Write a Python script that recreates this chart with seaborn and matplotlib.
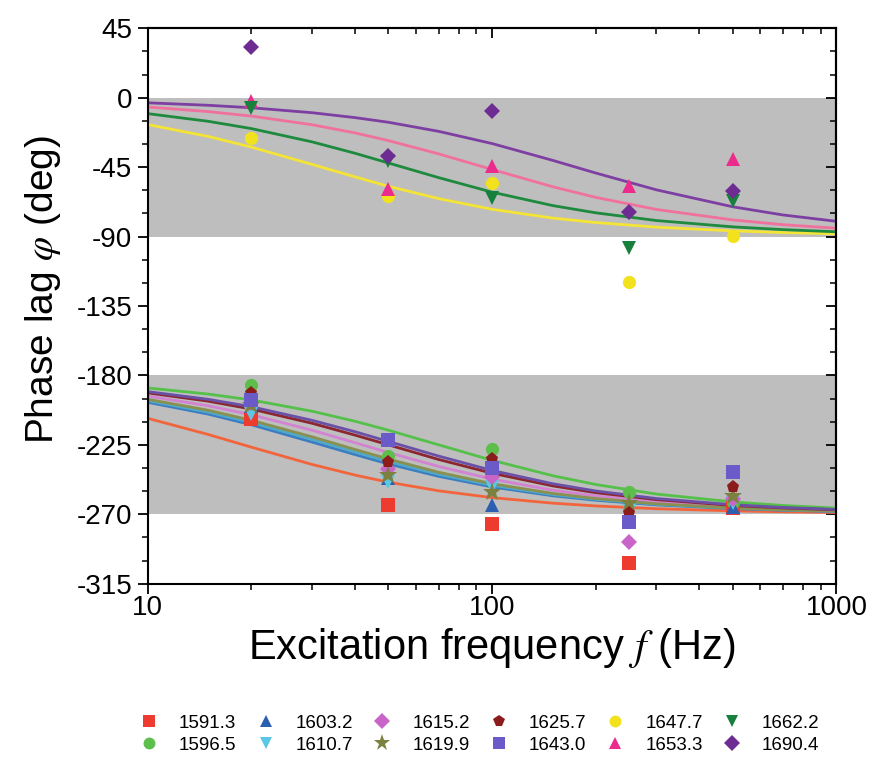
import numpy as np
import pandas as pd
import matplotlib
matplotlib.use("Agg")
import matplotlib.pyplot as plt
import matplotlib.ticker as mticker
import seaborn as sns

# measured points
freq = [20, 50, 100, 250, 500]
series = ["1591.3", "1596.5", "1603.2", "1610.7", "1615.2", "1619.9",
          "1625.7", "1643.0", "1647.7", "1653.3", "1662.2", "1690.4"]
p_1591 = [-208.5, -264, -276, -301.5, -266]
p_1596 = [-186.5, -232.5, -227.5, -255.5, -262]
p_1603 = [-200, -246.5, -264, -275, -265]
p_1610 = [-205, -249, -252, -268, -263]
p_1615 = [-198, -240.5, -246, -288, -260]
p_1619 = [-199, -244.5, -255.5, -263, -258]
p_1625 = [-191.5, -236, -234, -269.5, -252]
p_1643 = [-196, -222, -240, -275, -242.5]
p_1647 = [-26, -64, -55, -119.5, -89.5]
p_1653 = [-2, -59, -44, -57, -40]
p_1662 = [-6.7, -41, -65, -97.5, -66.7]
p_1690 = [32.6, -37.5, -8.8, -74, -60.6]
points = [p_1591, p_1596, p_1603, p_1610, p_1615, p_1619,
          p_1625, p_1643, p_1647, p_1653, p_1662, p_1690]

# fitted curves
fit_freq = [10, 15, 20, 30, 40, 50, 70, 100, 150, 200, 300, 500, 700, 1000]
c_1591 = [-207.8, -218.3, -226.5, -237.7, -244.6, -249.2, -254.8, -259.2, -262.8, -264.6, -266.4, -267.8, -268.4, -268.9]
c_1596 = [-188.1, -192.1, -195.9, -203.2, -209.7, -215.5, -225.0, -235.0, -245.0, -250.7, -256.9, -262.0, -264.3, -266.0]
c_1603 = [-197.4, -205.1, -212.0, -223.2, -231.3, -237.4, -245.4, -252.3, -258.0, -260.9, -263.9, -266.3, -267.4, -268.2]
c_1610 = [-196.4, -203.8, -210.5, -221.4, -229.6, -235.8, -244.1, -251.2, -257.2, -260.3, -263.5, -266.1, -267.2, -268.1]
c_1615 = [-193.4, -199.7, -205.5, -215.5, -223.6, -230.0, -239.0, -247.2, -254.4, -258.1, -262.0, -265.2, -266.6, -267.6]
c_1619 = [-195.5, -202.6, -209.1, -219.8, -228.0, -234.2, -242.8, -250.2, -256.5, -259.8, -263.2, -265.9, -267.1, -267.9]
c_1625 = [-191.3, -196.7, -201.8, -211.0, -218.7, -225.0, -234.5, -243.4, -251.6, -256.0, -260.5, -264.3, -265.9, -267.1]
c_1643 = [-190.5, -195.5, -200.3, -209.1, -216.5, -222.8, -232.3, -241.6, -250.2, -254.9, -259.8, -263.8, -265.6, -266.9]
c_1647 = [-17.4, -25.1, -32.0, -43.2, -51.3, -57.4, -65.4, -72.3, -78.0, -80.9, -83.9, -86.3, -87.4, -88.2]
c_1653 = [-6.0, -9.0, -11.9, -17.5, -22.8, -27.8, -36.4, -46.5, -57.7, -64.6, -72.4, -79.2, -82.3, -84.6]
c_1662 = [-10.3, -15.3, -20.0, -28.6, -36.0, -42.3, -51.8, -61.2, -69.9, -74.6, -79.6, -83.7, -85.5, -86.9]
c_1690 = [-3.3, -4.9, -6.5, -9.7, -12.9, -15.9, -21.8, -29.7, -40.6, -48.8, -59.7, -70.7, -76.0, -80.1]
curves = [c_1591, c_1596, c_1603, c_1610, c_1615, c_1619,
          c_1625, c_1643, c_1647, c_1653, c_1662, c_1690]

marker_colors = ["#EE3B2F", "#5DBE4B", "#2C5FB0", "#5CC7E3", "#C964C8", "#7C8040",
                 "#8C1C1C", "#6A5BC8", "#F2E21E", "#EC2C8C", "#16803C", "#6E2C93"]
line_colors = ["#F2653C", "#55C04A", "#3B7CC2", "#4FA9C8", "#D284D2", "#8A9050",
               "#8C2630", "#6B50A8", "#F4E436", "#F0709E", "#1E8A3E", "#7E3FA2"]
markers = ["s", "o", "^", "v", "D", "*", "p", "s", "o", "^", "v", "D"]

sns.set_style("white")
plt.rcParams['font.family'] = ['Liberation Sans', 'DejaVu Sans']
plt.rcParams['mathtext.fontset'] = 'stix'
plt.rcParams['axes.unicode_minus'] = False
plt.rcParams['text.color'] = 'black'
plt.rcParams['axes.labelcolor'] = 'black'
plt.rcParams['xtick.color'] = 'black'
plt.rcParams['ytick.color'] = 'black'

fig = plt.figure(figsize=(8.74, 7.65), dpi=100)
ax = fig.add_axes([0.169, 0.237, 0.788, 0.726])

ax.axhspan(-90, 0, color="#bebebe", lw=0, zorder=0)
ax.axhspan(-270, -180, color="#bebebe", lw=0, zorder=0)

for name, c, col in zip(series, curves, line_colors):
    df = pd.DataFrame({"f": fit_freq, "phi": c})
    sns.lineplot(data=df, x="f", y="phi", color=col, lw=2, ax=ax, zorder=2)

handles = []
for name, p, col, m in zip(series, points, marker_colors, markers):
    ms = {"*": 14, "D": 8.5}.get(m, 9.5)
    h, = ax.plot(freq, p, linestyle="none", marker=m, color=col,
                 markersize=ms, markeredgewidth=0, zorder=3, label=name)
    handles.append(h)

ax.set_xscale("log")
ax.set_xlim(10, 1000)
ax.set_ylim(-315, 45)
ax.set_yticks(np.arange(-315, 46, 45))
ax.yaxis.set_minor_locator(mticker.MultipleLocator(15))
ax.xaxis.set_minor_locator(mticker.LogLocator(base=10, subs=np.arange(2, 10)))
ax.xaxis.set_minor_formatter(mticker.NullFormatter())
ax.xaxis.set_major_formatter(mticker.FuncFormatter(lambda v, _: f"{int(v)}"))
ax.tick_params(axis="both", which="both", direction="out", bottom=True, left=True,
               top=False, right=False, labelsize=20, colors="black")
ax.tick_params(which="major", length=7, width=1.3, pad=4)
ax.tick_params(which="minor", length=4, width=1.1)
ax.tick_params(axis="x", which="major", pad=1)
for s in ax.spines.values():
    s.set_linewidth(1.5)
    s.set_color("black")

# mirrored ticks pointing inward on top and right
top = ax.secondary_xaxis("top")
top.xaxis.set_minor_locator(mticker.LogLocator(base=10, subs=np.arange(2, 10)))
top.tick_params(which="both", direction="in", labeltop=False, colors="black")
top.tick_params(which="major", length=7, width=1.3)
top.tick_params(which="minor", length=4, width=1.1)
right = ax.secondary_yaxis("right")
right.set_yticks(np.arange(-315, 46, 45))
right.yaxis.set_minor_locator(mticker.MultipleLocator(15))
right.tick_params(which="both", direction="in", labelright=False, colors="black")
right.tick_params(which="major", length=7, width=1.3)
right.tick_params(which="minor", length=4, width=1.1)
for sec in (top, right):
    for s in sec.spines.values():
        s.set_linewidth(1.5)
        s.set_color("black")

ax.set_xlabel(r"Excitation frequency $f$ (Hz)", fontsize=30, labelpad=4)
ax.set_ylabel(r"Phase lag $\varphi$ (deg)", fontsize=28, labelpad=10)
ax.yaxis.label.set_y(0.53)

fig.legend(handles=handles, labels=series, ncol=6, loc="upper left",
           bbox_to_anchor=(0.147, 0.078), frameon=False, fontsize=13.5,
           handletextpad=1.0, columnspacing=0.95, handlelength=1.2,
           labelspacing=0.25, borderpad=0, markerscale=0.9)

fig.savefig("out.png", dpi=100)
